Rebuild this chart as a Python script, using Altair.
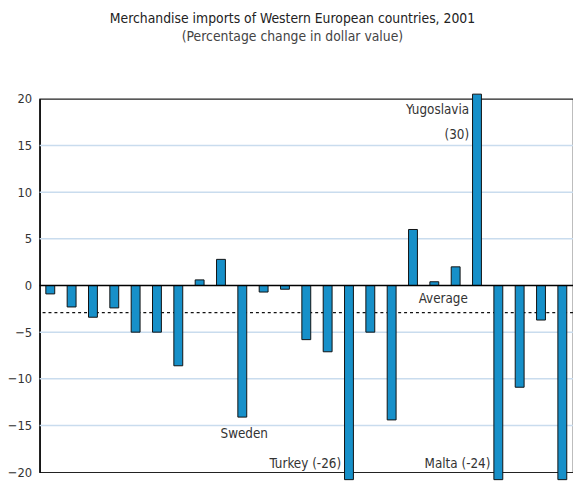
import altair as alt
import pandas as pd

# ---- data ----
countries = [f"C{i:02d}" for i in range(1, 26)]
values = [-0.9, -2.3, -3.4, -2.4, -5.0, -5.0, -8.6, 0.6, 2.8, -14.1,
          -0.7, -0.4, -5.8, -7.1, -26.0, -5.0, -14.4, 6.0, 0.4, 2.0,
          30.0, -24.0, -10.9, -3.7, -22.0]
average_value = -2.9
y_ticks = [-20, -15, -10, -5, 0, 5, 10, 15, 20]
grid_values = [-15, -10, -5, 5, 10, 15]

ann_text = ["Sweden", "Turkey (-26)", "Malta (-24)", "Yugoslavia", "(30)", "Average"]
ann_cat = ["C10", "C15", "C22", "C21", "C21", "C19"]
ann_y = [-15.9, -19.1, -19.1, 18.8, 16.1, -1.4]
ann_group = ["a", "r", "r", "r", "r", "b"]

df = pd.DataFrame({"country": countries, "value": values})
ann = pd.DataFrame({"label": ann_text, "country": ann_cat, "y": ann_y, "group": ann_group})

FONT = "Liberation Sans Narrow, DejaVu Sans Condensed, Roboto, sans-serif"
TXT = "#333333"

yscale = alt.Scale(domain=[-20, 20], nice=False, zero=False)
xscale = alt.Scale(domain=countries, paddingInner=0, paddingOuter=0)

base = alt.Chart(df)

grid = alt.Chart(pd.DataFrame({"g": grid_values})).mark_rule(
    color="#C9DCEE", strokeWidth=1.5
).encode(y=alt.Y("g:Q", scale=yscale))

avg = alt.Chart(pd.DataFrame({"a": [average_value]})).mark_rule(
    color="#111111", strokeWidth=1.2, strokeDash=[3, 3]
).encode(y=alt.Y("a:Q", scale=yscale))

bars = base.transform_calculate(
    shown="clamp(datum.value, -20.8, 20.5)"
).mark_bar(
    size=9, color="#1790C9", stroke="#111111", strokeWidth=1, clip=False
).encode(
    x=alt.X("country:N", scale=xscale, axis=None, sort=countries),
    y=alt.Y("shown:Q", scale=yscale,
            axis=alt.Axis(values=y_ticks, grid=False, title=None, tickSize=0,
                          labelPadding=8, labelFont=FONT, labelFontSize=13,
                          labelColor=TXT, domainColor="#000000", domainWidth=1.5)),
    y2=alt.datum(0),
)

zero = alt.Chart(pd.DataFrame({"z": [0]})).mark_rule(
    color="#000000", strokeWidth=1.5
).encode(y=alt.Y("z:Q", scale=yscale))

def ann_layer(group, align, dx):
    return alt.Chart(ann).transform_filter(
        alt.datum.group == group
    ).mark_text(
        font=FONT, fontSize=13.5, color=TXT, align=align, baseline="middle", dx=dx
    ).encode(
        x=alt.X("country:N", scale=xscale, sort=countries),
        y=alt.Y("y:Q", scale=yscale),
        text="label:N",
    )

chart = alt.layer(
    grid, avg, bars, zero,
    ann_layer("a", "center", 2), ann_layer("b", "center", 9), ann_layer("r", "right", -8)
).properties(
    width=540, height=378,
    autosize=alt.AutoSizeParams(type="none"),
    padding={"left": 32, "top": 89, "right": 0, "bottom": 7},
    title=alt.TitleParams(
        text="Merchandise imports of Western European countries, 2001",
        subtitle="(Percentage change in dollar value)",
        anchor="middle", dx=-14, offset=50,
        font=FONT, fontSize=14, fontWeight="normal", color="#222222",
        subtitleFont=FONT, subtitleFontSize=14, subtitleColor="#444444",
        subtitlePadding=4,
    ),
).configure_view(stroke="#222222", strokeWidth=1.2)

chart.save("out.html", embed_options={"renderer": "svg", "actions": False})
